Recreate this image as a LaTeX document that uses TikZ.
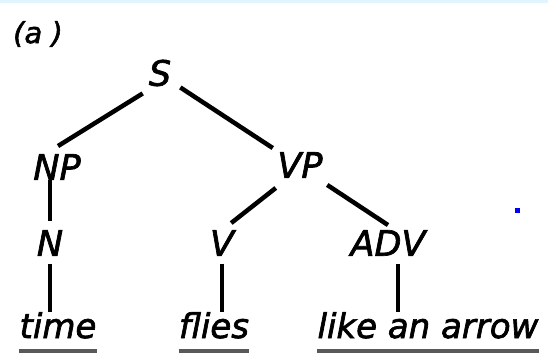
\documentclass[tikz,border=0pt]{standalone}
\usepackage{fontspec}
\setmainfont{DejaVu Sans}[ItalicFeatures={FakeBold=2}]
\begin{document}
\begin{tikzpicture}[x=1pt, y=-1pt,
  cat/.style={inner sep=0pt, font=\fontsize{35}{40}\selectfont\itshape},
  word/.style={inner sep=0pt, anchor=base, font=\fontsize{34}{40}\selectfont\itshape},
  branch/.style={line width=4.5pt},
  uline/.style={line width=3.5pt, black!65}]
  \useasboundingbox (0,0) rectangle (548,355);
  \fill[cyan!12] (0,0) rectangle (548,3);
  \node[cat, font=\fontsize{29}{34}\selectfont\itshape] (tag) at (38,34) {(a )};
  \node[cat] (s) at (160,73) {S};
  \node[cat] (np) at (57,167) {NP};
  \node[cat] (vp) at (300,165) {VP};
  \node[cat] (n) at (50,243) {N};
  \node[cat] (v) at (222,243) {V};
  \node[cat] (adv) at (388,243) {ADV};
  \node[word] (time) at (58,338) {time};
  \node[word] (flies) at (214,338) {flies};
  \node[word] (arrow) at (428,338) {like an arrow};
  \coordinate (advfoot) at ([xshift=10pt]adv.south);
  \draw[branch] ([shift={(-6pt,-7pt)}]s.south west) -- ([shift={(1pt,8pt)}]np.north);
  \draw[branch] ([shift={(9pt,-1pt)}]s.south east) -- ([shift={(-4.5pt,4pt)}]vp.north west);
  \draw[branch] (n.north |- np.south) -- ([yshift=9pt]n.north);
  \draw[branch] ([shift={(-1.5pt,-10pt)}]vp.south west) -- ([shift={(-3pt,7pt)}]v.north east);
  \draw[branch] ([shift={(4.5pt,-7pt)}]vp.south east) -- ([yshift=5pt]adv.north);
  \draw[branch] ([yshift=-8pt]n.south) -- (n |- time.north);
  \draw[branch] ([yshift=-8pt]v.south) -- (v |- flies.north);
  \draw[branch] ([yshift=-8pt]advfoot) -- (advfoot |- arrow.north);
  \draw[uline] ([yshift=-13pt]time.base west) -- ([yshift=-13pt]time.base east);
  \draw[uline] ([yshift=-13pt]flies.base west) -- ([yshift=-13pt]flies.base east);
  \draw[uline] ([yshift=-13pt]arrow.base west) -- ([yshift=-13pt]arrow.base east);
  \fill[blue] (514.5,208.5) rectangle (519.5,213.5);
\end{tikzpicture}
\end{document}
